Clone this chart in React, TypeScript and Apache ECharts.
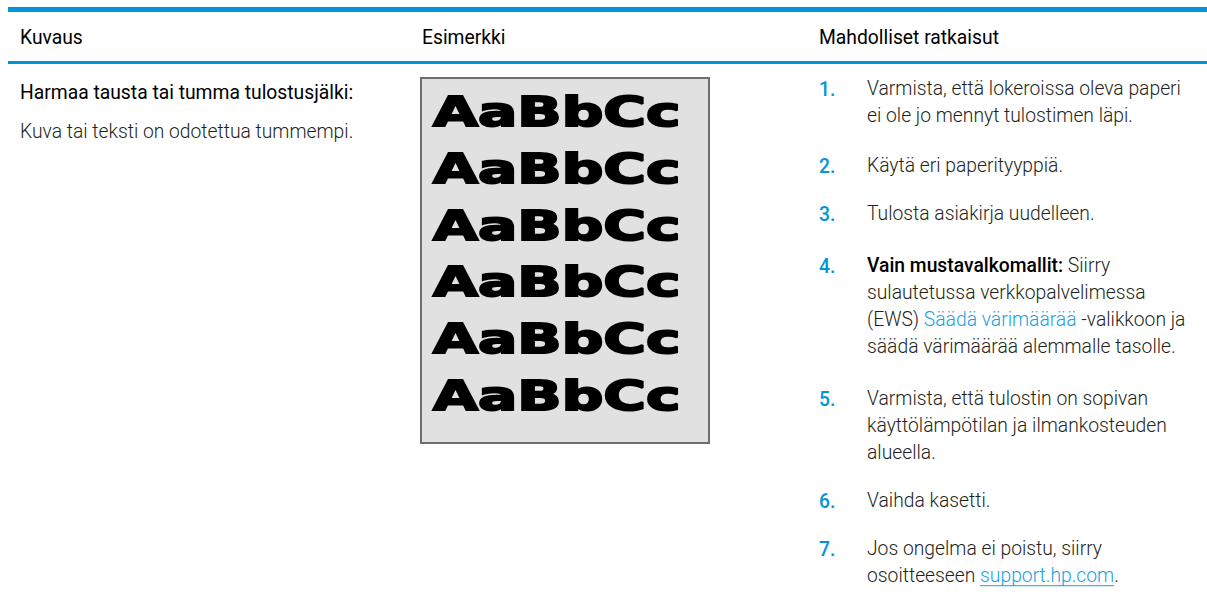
import React, { useEffect, useRef } from "react";
import * as echarts from "echarts";

const HEADERS = ["Kuvaus", "Esimerkki", "Mahdolliset ratkaisut"];
const DESC_TITLE = "Harmaa tausta tai tumma tulostusjälki:";
const DESC_TEXT = "Kuva tai teksti on odotettua tummempi.";
const SAMPLE_TEXT = "AaBbCc";
const SAMPLE_ROWS = 6;
const STEP_NUMBERS = ["1.", "2.", "3.", "4.", "5.", "6.", "7."];
const STEP_LINES: string[][] = [
  ["Varmista, että lokeroissa oleva paperi", "ei ole jo mennyt tulostimen läpi."],
  ["Käytä eri paperityyppiä."],
  ["Tulosta asiakirja uudelleen."],
  [
    "{b|Vain mustavalkomallit:} Siirry",
    "sulautetussa verkkopalvelimessa",
    "(EWS) {link|Säädä värimäärää} -valikkoon ja",
    "säädä värimäärää alemmalle tasolle.",
  ],
  ["Varmista, että tulostin on sopivan", "käyttölämpötilan ja ilmankosteuden", "alueella."],
  ["Vaihda kasetti."],
  ["Jos ongelma ei poistu, siirry", "osoitteeseen {u|support.hp.com}."],
];

// layout
const BLUE = "#0096d6";
const LINK = "#1a9fe0";
const FAMILY = "Roboto, 'Open Sans', sans-serif";
const FS = 19.3;
const LH = 26.7;
const COL_X = [20, 422, 819];
const STEP_TEXT_X = 867;
const STEP_TOPS = [89, 166, 214, 266, 399, 501, 549]; // first-line centers

function measure(text: string, font: string): number {
  const c = document.createElement("canvas");
  const ctx = c.getContext("2d")!;
  ctx.font = font;
  return ctx.measureText(text).width;
}

function stripRich(s: string): string {
  return s.replace(/\{\w+\|([^}]*)\}/g, "$1");
}

export default function App() {
  const ref = useRef<HTMLDivElement>(null);
  useEffect(() => {
    document.body.style.margin = "0";
    const chart = echarts.init(ref.current!, null, { renderer: "svg" });
    const els: any[] = [];
    els.push({ type: "rect", shape: { x: 8, y: 7, width: 1199, height: 5 }, style: { fill: BLUE } });
    els.push({ type: "rect", shape: { x: 8, y: 61, width: 1199, height: 3 }, style: { fill: BLUE } });

    HEADERS.forEach((h, i) => {
      els.push({
        type: "text",
        x: COL_X[i],
        y: 37,
        style: { text: h, fontFamily: FAMILY, fontSize: FS, fontWeight: 400, fill: "#000", verticalAlign: "middle" },
      });
    });

    els.push({
      type: "text",
      x: 20,
      y: 92,
      style: { text: DESC_TITLE, fontFamily: FAMILY, fontSize: FS, fontWeight: 400, fill: "#000", verticalAlign: "middle" },
    });
    els.push({
      type: "text",
      x: 20,
      y: 131,
      style: { text: DESC_TEXT, fontFamily: FAMILY, fontSize: FS, fontWeight: 300, fill: "#231f20", verticalAlign: "middle" },
    });

    // sample image
    els.push({
      type: "rect",
      shape: { x: 421, y: 78, width: 288, height: 365 },
      style: { fill: "#e1e1e1", stroke: "#6e6e6e", lineWidth: 2 },
    });
    for (let r = 0; r < SAMPLE_ROWS; r++) {
      els.push({
        type: "text",
        x: 433,
        y: 112 + r * 56.7,
        scaleX: 1.42,
        style: {
          text: SAMPLE_TEXT,
          fontFamily: "'DejaVu Sans', sans-serif",
          fontSize: 41,
          fontWeight: 700,
          fill: "#000",
          stroke: "#000",
          lineWidth: 2,
          verticalAlign: "middle",
        },
      });
    }

    const bodyFont = `300 ${FS}px Roboto`;
    STEP_LINES.forEach((lines, i) => {
      const c = STEP_TOPS[i];
      els.push({
        type: "text",
        x: COL_X[2],
        y: c,
        style: { text: STEP_NUMBERS[i], fontFamily: FAMILY, fontSize: FS, fontWeight: 500, fill: BLUE, verticalAlign: "middle" },
      });
      els.push({
        type: "text",
        x: STEP_TEXT_X,
        y: c - LH / 2,
        style: {
          text: lines.join("\n"),
          fontFamily: FAMILY,
          fontSize: FS,
          fontWeight: 300,
          fill: "#231f20",
          lineHeight: LH,
          verticalAlign: "top",
          rich: {
            b: { fontFamily: FAMILY, fontSize: FS, fontWeight: 500, fill: "#000", lineHeight: LH },
            link: { fontFamily: FAMILY, fontSize: FS, fontWeight: 300, fill: LINK, lineHeight: LH },
            u: { fontFamily: FAMILY, fontSize: FS, fontWeight: 300, fill: LINK, lineHeight: LH },
          },
        },
      });
      lines.forEach((ln, li) => {
        const m = ln.match(/\{u\|([^}]*)\}/);
        if (m) {
          const prefix = stripRich(ln.slice(0, m.index));
          const x0 = STEP_TEXT_X + measure(prefix, bodyFont);
          const w = measure(m[1], bodyFont);
          const yy = c + li * LH + 10;
          els.push({ type: "line", shape: { x1: x0, y1: yy, x2: x0 + w, y2: yy }, style: { stroke: LINK, lineWidth: 1 } });
        }
      });
    });

    chart.setOption({ animation: false, backgroundColor: "#fff", graphic: { elements: els } });
    return () => chart.dispose();
  }, []);
  return <div ref={ref} style={{ width: 1207, height: 601 }} />;
}
